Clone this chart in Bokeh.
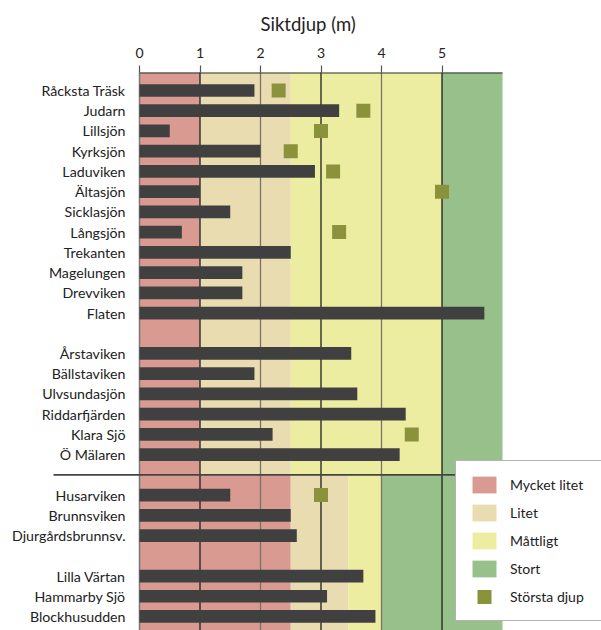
from bokeh.plotting import figure
from bokeh.models import Range1d, Legend, LegendItem, FixedTicker, ColumnDataSource, Title
from bokeh.core.properties import value
from bokeh.embed import file_html
from bokeh.resources import INLINE

# ---- data ----
groups = [
    ["Råcksta Träsk", "Judarn", "Lillsjön", "Kyrksjön", "Laduviken", "Ältasjön",
     "Sicklasjön", "Långsjön", "Trekanten", "Magelungen", "Drevviken", "Flaten"],
    ["Årstaviken", "Bällstaviken", "Ulvsundasjön", "Riddarfjärden", "Klara Sjö", "Ö Mälaren"],
    ["Husarviken", "Brunnsviken", "Djurgårdsbrunnsv."],
    ["Lilla Värtan", "Hammarby Sjö", "Blockhusudden"],
]
siktdjup = [1.9, 3.3, 0.5, 2.0, 2.9, 1.0, 1.5, 0.7, 2.5, 1.7, 1.7, 5.7,
            3.5, 1.9, 3.6, 4.4, 2.2, 4.3,
            1.5, 2.5, 2.6,
            3.7, 3.1, 3.9]
storsta_djup = [2.3, 3.7, 3.0, 2.5, 3.2, 5.0, None, 3.3, None, None, None, None,
                None, None, None, None, 4.5, None,
                3.0, None, None,
                None, None, None]
zone_names = ["Mycket litet", "Litet", "Måttligt", "Stort"]
zone_colors = ["#d99a92", "#e9dcb0", "#ededa1", "#98c08b"]
bounds_upper = [0, 1, 2.5, 5, 6]      # sjöar och Mälaren
bounds_lower = [0, 2.5, 3.45, 4, 6]   # Saltsjön
x_ticks = [0, 1, 2, 3, 4, 5]
title_text = "Siktdjup (m)"
legend_marker_label = "Största djup"

# ---- row layout from the group structure ----
names, rows, gap_rows = [], [], []
r = 0
for g in groups:
    for n in g:
        names.append(n)
        rows.append(r)
        r += 1
    gap_rows.append(r)
    r += 1
split = gap_rows[1]

px_per_unit = 60.5
row_px = 20.23
fig_w, fig_h = 601, 630
top_border = 72
x0 = -139 / px_per_unit
y_top = -18 / row_px
y_bot = y_top + (fig_h - top_border) / row_px

p = figure(width=fig_w, height=fig_h, output_backend="svg", toolbar_location=None,
           x_range=Range1d(x0, x0 + fig_w / px_per_unit),
           y_range=Range1d(y_bot, y_top),
           x_axis_location="above", y_axis_location=None,
           min_border_left=0, min_border_right=0, min_border_bottom=0,
           min_border_top=top_border,
           outline_line_color=None, background_fill_color="white", border_fill_color="white")
p.xgrid.visible = False
p.ygrid.visible = False

ax = p.xaxis[0]
ax.ticker = FixedTicker(ticks=x_ticks)
ax.axis_line_color = None
ax.major_tick_out = 7
ax.major_tick_in = 0
ax.minor_tick_line_color = None
ax.major_tick_line_color = "#555555"
ax.major_tick_line_width = 1.2
ax.major_label_standoff = 8
ax.major_label_text_font = "Lato"
ax.major_label_text_font_size = "14px"
ax.major_label_text_color = "#222222"

t = Title(text=title_text, align="left", offset=260, text_font="Lato",
          text_font_size="18.5px", text_font_style="normal", text_color="#222222", standoff=20)
p.add_layout(t, "above")

# ---- zone bands ----
zone_renderers = []
for i, (zn, zc) in enumerate(zip(zone_names, zone_colors)):
    src = ColumnDataSource(dict(
        left=[bounds_upper[i], bounds_lower[i]],
        right=[bounds_upper[i + 1], bounds_lower[i + 1]],
        top=[y_top - 1, split],
        bottom=[split, y_bot + 1],
    ))
    rr = p.quad(left="left", right="right", top="top", bottom="bottom", source=src,
                fill_color=zc, line_color=None)
    zone_renderers.append(rr)

# ---- grid lines ----
gx = x_ticks[1:]
gcol = ["#1e1e1e" if v % 2 == 1 else "#7a7466" for v in gx]
p.segment(x0=gx, y0=[y_top - 1] * len(gx), x1=gx, y1=[y_bot + 1] * len(gx),
          line_color=gcol, line_width=1.3)
p.segment(x0=[0], y0=[y_top - 1], x1=[0], y1=[y_bot + 1], line_color="#777777", line_width=1.5)
p.segment(x0=[0], y0=[y_top], x1=[bounds_upper[-1]], y1=[y_top], line_color="#333333", line_width=2.2)

# ---- bars ----
p.hbar(y=rows, left=0, right=siktdjup, height=0.63, fill_color="#404040", line_color=None)

# ---- deepest point markers ----
sx = [v for v in storsta_djup if v is not None]
sy = [rows[i] for i, v in enumerate(storsta_djup) if v is not None]
sq = p.scatter(x=sx, y=sy, marker="square", size=8.4, line_width=5.6,
               fill_color="#8a933c", line_color="#8a933c", line_join="miter")

# ---- separator between lake groups and Saltsjön ----
p.segment(x0=[-86 / px_per_unit], y0=[split], x1=[bounds_upper[-1]], y1=[split],
          line_color="#444444", line_width=1.8)

# ---- category labels ----
p.text(x=[-14 / px_per_unit] * len(names), y=rows, text=names, text_align="right",
       text_baseline="middle", text_font=value("Lato"), text_font_size="14.2px",
       text_color="#222222")

# ---- legend ----
items = [LegendItem(label=zn, renderers=[zr]) for zn, zr in zip(zone_names, zone_renderers)]
items.append(LegendItem(label=legend_marker_label, renderers=[sq]))
leg = Legend(items=items, location=(455, 9), glyph_width=30, glyph_height=21,
             spacing=7, padding=13, label_standoff=11, label_width=110,
             label_text_font="Lato", label_text_font_size="14px", label_text_color="#222222",
             border_line_color="#666666", border_line_width=1.5,
             background_fill_color="white", background_fill_alpha=1.0)
p.add_layout(leg, "center")

open("out.html", "w").write(file_html(p, INLINE))
